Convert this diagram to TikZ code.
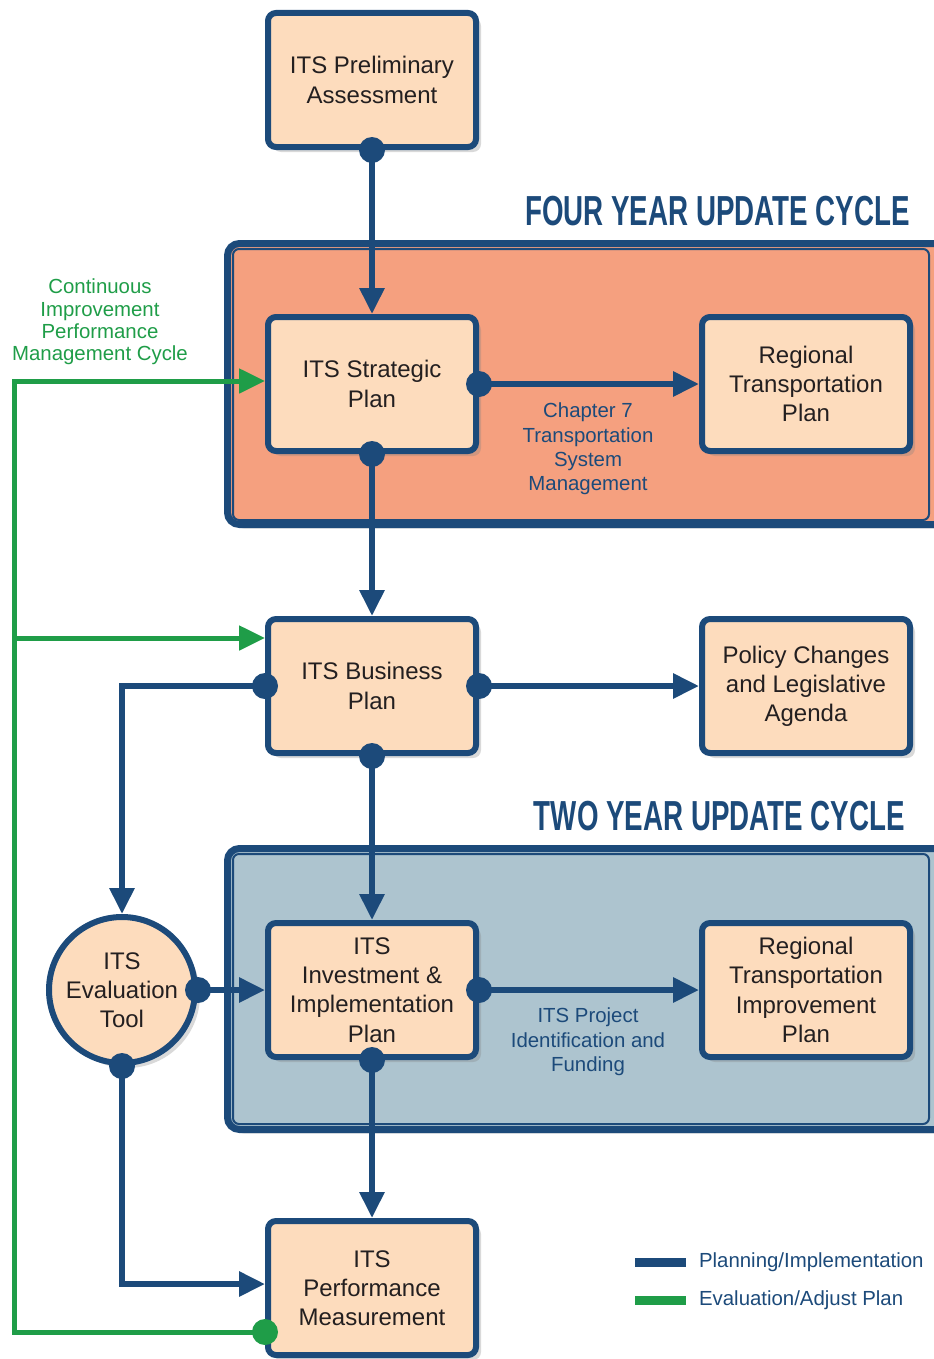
\documentclass[tikz,border=0pt]{standalone}
\usepackage{fontspec}
\setmainfont{Liberation Sans}
\newfontfamily\titlefont[FakeStretch=0.66]{Liberation Sans}
\usetikzlibrary{arrows.meta,shadows,positioning,calc}

\definecolor{navy}{HTML}{1C4A7A}
\definecolor{peach}{HTML}{FDDCBD}
\definecolor{salmon}{HTML}{F5A07F}
\definecolor{slate}{HTML}{ADC4CF}
\definecolor{cyclegreen}{HTML}{1F9D48}
\definecolor{ink}{HTML}{231F20}

\tikzset{
    planbox/.style={draw=navy, line width=3pt, fill=peach, rounded corners=4pt,
        minimum width=104pt, minimum height=67pt, align=center, text=ink,
        font=\fontsize{12}{14.6}\selectfont,
        drop shadow={shadow xshift=2.5pt, shadow yshift=-2.5pt, opacity=0.3}},
    evalcircle/.style={planbox, circle, minimum size=73pt, inner sep=0pt},
    framebox/.style={draw=navy, line width=3.5pt, rounded corners=6pt,
        drop shadow={shadow xshift=2pt, shadow yshift=-2pt, opacity=0.25}},
    frameline/.style={draw=navy, line width=1pt, rounded corners=3pt},
    cycletitle/.style={anchor=east, text=navy, inner sep=0pt,
        font=\titlefont\bfseries\fontsize{21}{21}\selectfont},
    planline/.style={navy, line width=3pt},
    planarrow/.style={planline, -{Triangle[length=13pt,width=12pt]}},
    evalline/.style={cyclegreen, line width=2.5pt},
    evalarrow/.style={evalline, -{Triangle[length=13pt,width=12pt]}},
    steplabel/.style={text=navy, align=center, font=\fontsize{10.2}{12.2}\selectfont},
}

\begin{document}
\begin{tikzpicture}[x=0.5pt, y=-0.5pt]
    \useasboundingbox (0,0) rectangle (933,1359);

    % update cycle frames
    \draw[framebox, fill=salmon] (227.5,243.5) rectangle (950,524.5);
    \draw[frameline] (233,249) rectangle (929,520);
    \node[cycletitle] (fourtitle) at (910,211) {FOUR YEAR UPDATE CYCLE};

    \draw[framebox, fill=slate] (227.5,848.5) rectangle (950,1129.5);
    \draw[frameline] (233,854) rectangle (929,1124);
    \node[cycletitle] (twotitle) at (905,816) {TWO YEAR UPDATE CYCLE};

    % plan boxes
    \node[planbox] (prelim) at (372,80) {ITS Preliminary\\Assessment};
    \node[planbox] (strat) at (372,384) {ITS Strategic\\Plan};
    \node[planbox] (rtp) at (806,384) {Regional\\Transportation\\Plan};
    \node[planbox] (bus) at (372,686) {ITS Business\\Plan};
    \node[planbox] (policy) at (806,686) {Policy Changes\\and Legislative\\Agenda};
    \node[planbox] (inv) at (372,990) {ITS\\Investment \&\\Implementation\\Plan};
    \node[planbox] (rtip) at (806,990) {Regional\\Transportation\\Improvement\\Plan};
    \node[evalcircle] (eval) at (122,990) {ITS\\Evaluation\\Tool};
    \node[planbox] (perf) at (372,1288) {ITS\\Performance\\Measurement};

    % labels
    \node[steplabel] (chap7) at (588,449) {Chapter 7\\Transportation\\System\\Management};
    \node[steplabel] (funding) at (588,1042) {ITS Project\\Identification and\\Funding};
    \node[steplabel, text=cyclegreen, font=\fontsize{10.2}{11.2}\selectfont] (cyclelabel) at (100,322)
        {Continuous\\Improvement\\Performance\\Management Cycle};

    % planning / implementation connectors
    \draw[planarrow] (prelim.south) -- (strat.north);
    \draw[planarrow] (strat.east) -- (rtp.west);
    \draw[planarrow] (strat.south) -- (bus.north);
    \draw[planarrow] (bus.east) -- (policy.west);
    \draw[planarrow] (bus.west) -| (eval.north);
    \draw[planarrow] (bus.south) -- (inv.north);
    \draw[planarrow] (eval.east) -- (inv.west);
    \draw[planarrow] (inv.east) -- (rtip.west);
    \draw[planarrow] (inv.south) -- (perf.north);
    \draw[planarrow] (eval.south) |- ($(perf.west)+(0,-4)$);

    % evaluation / adjust loop
    \coordinate (gdot) at ($(perf.west)+(0,44)$);
    \coordinate (loop) at (14,0);
    \coordinate (stratin) at ($(strat.west)+(0,-3)$);
    \coordinate (busin) at ($(bus.west)+(0,-48)$);
    \draw[evalarrow] (gdot) -| (loop |- stratin) -- (stratin);
    \draw[evalarrow] (loop |- busin) -- (busin);

    \foreach \p in {prelim.south, strat.east, strat.south, bus.west, bus.east,
                    bus.south, inv.east, inv.south, eval.east, eval.south}
        \fill[navy] (\p) circle (6.5pt);
    \fill[cyclegreen] (gdot) circle (6.5pt);

    % legend
    \draw[navy, line width=4.5pt] (635,1262) -- (686,1262);
    \node[steplabel, anchor=west] (legplan) at (692,1262) {Planning/Implementation};
    \draw[cyclegreen, line width=4.5pt] (635,1300) -- (686,1300);
    \node[steplabel, anchor=west] (legeval) at (692,1300) {Evaluation/Adjust Plan};
\end{tikzpicture}
\end{document}
